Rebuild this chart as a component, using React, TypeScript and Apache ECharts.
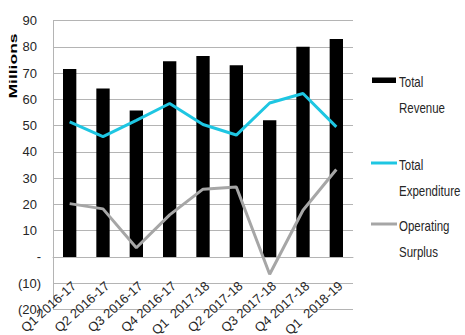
import React, { useEffect, useRef } from "react";
import * as echarts from "echarts";

const categories = [
  "Q1 2016-17",
  "Q2 2016-17",
  "Q3 2016-17",
  "Q4 2016-17",
  "Q1  2017-18",
  "Q2 2017-18",
  "Q3 2017-18",
  "Q4 2017-18",
  "Q1  2018-19",
];
const totalRevenue = [71.5, 64.1, 55.7, 74.5, 76.5, 73.0, 52.0, 80.0, 83.0];
const totalExpenditure = [51.4, 45.8, 52.0, 58.4, 50.4, 46.4, 58.6, 62.2, 49.5];
const operatingSurplus = [20.3, 18.3, 3.5, 16.0, 25.8, 26.6, -6.6, 17.8, 33.3];
const seriesNames = ["Total Revenue", "Total Expenditure", "Operating Surplus"];
const seriesColors = ["#000000", "#1EC6E2", "#A6A6A6"];
const yTicks = { min: -20, max: 90, interval: 10 };
const yAxisTitle = "Millions";

const FONT = "'Liberation Sans', Arial, sans-serif";
const TEXT = "#262626";

const GRID = { left: 53, right: 112, top: 20.5, bottom: 25.5 };
const CHART_H = 335;

export default function App() {
  const ref = useRef<HTMLDivElement>(null);
  useEffect(() => {
    if (!ref.current) return;
    const chart = echarts.init(ref.current, undefined, { renderer: "svg" });
    const plotH = CHART_H - GRID.top - GRID.bottom;
    // move the category axis up to the value 0, as in the original
    const zeroOffset = -((0 - yTicks.min) / (yTicks.max - yTicks.min)) * plotH;
    const legendY = [80, 163, 224];
    const legendGraphics: any[] = [];
    seriesNames.forEach((name, i) => {
      const y = legendY[i];
      if (i === 0) {
        legendGraphics.push({
          type: "rect",
          shape: { x: 372, y: y - 2.5, width: 24, height: 5.5 },
          style: { fill: seriesColors[i] },
        });
      } else {
        legendGraphics.push({
          type: "line",
          shape: { x1: 371, y1: y, x2: 397, y2: y },
          style: { stroke: seriesColors[i], lineWidth: 3 },
        });
      }
      const words = name.split(" ");
      words.forEach((w, j) => {
        legendGraphics.push({
          type: "text",
          x: 399,
          y: y + 2 + j * 25.5,
          scaleY: 1.35,
          style: {
            text: w,
            font: `11.5px ${FONT}`,
            fill: TEXT,
            align: "left",
            verticalAlign: "middle",
          },
        });
      });
    });
    chart.setOption({
      animation: false,
      grid: {
        ...GRID,
        containLabel: false,
        outerBoundsMode: "none",
      },
      xAxis: {
        type: "category",
        data: categories,
        offset: zeroOffset,
        axisLine: { show: true, onZero: false, lineStyle: { color: "#B4B4B4", width: 1 } },
        axisTick: { show: false },
        axisLabel: {
          interval: 0,
          rotate: 42,
          margin: 22,
          verticalAlign: "top",
          fontFamily: FONT,
          fontSize: 13,
          color: TEXT,
        },
        splitLine: { show: false },
      },
      yAxis: {
        type: "value",
        min: yTicks.min,
        max: yTicks.max,
        interval: yTicks.interval,
        axisLine: { show: true, lineStyle: { color: "#B4B4B4", width: 1 } },
        axisTick: { show: false },
        splitLine: { show: true, lineStyle: { color: "#B4B4B4", width: 1 } },
        axisLabel: {
          margin: 12,
          fontFamily: FONT,
          fontSize: 13,
          color: TEXT,
          formatter: (v: number) => {
            if (v > 0) return `{p|${v}}`;
            if (v === 0) return "-";
            return `(${-v})`;
          },
          rich: {
            p: { padding: [0, 4, 0, 0], fontFamily: FONT, fontSize: 13, color: TEXT },
          },
        },
      },
      series: [
        {
          name: seriesNames[0],
          type: "bar",
          data: totalRevenue,
          barWidth: "40%",
          itemStyle: { color: seriesColors[0] },
        },
        {
          name: seriesNames[1],
          type: "line",
          data: totalExpenditure,
          showSymbol: false,
          symbol: "none",
          lineStyle: { color: seriesColors[1], width: 3 },
          itemStyle: { color: seriesColors[1] },
        },
        {
          name: seriesNames[2],
          type: "line",
          data: operatingSurplus,
          showSymbol: false,
          symbol: "none",
          lineStyle: { color: seriesColors[2], width: 3 },
          itemStyle: { color: seriesColors[2] },
        },
      ],
      graphic: [
        {
          type: "text",
          x: 13,
          y: 66,
          rotation: Math.PI / 2,
          scaleX: 1.75,
          style: {
            text: yAxisTitle,
            font: "bold 10px 'Liberation Sans', Arial, sans-serif",
            fill: "#000",
            align: "center",
            verticalAlign: "middle",
          },
        },
        ...legendGraphics,
      ],
    });
    return () => chart.dispose();
  }, []);
  return <div ref={ref} style={{ width: 465, height: 335, position: "absolute", left: 0, top: 0 }} />;
}
